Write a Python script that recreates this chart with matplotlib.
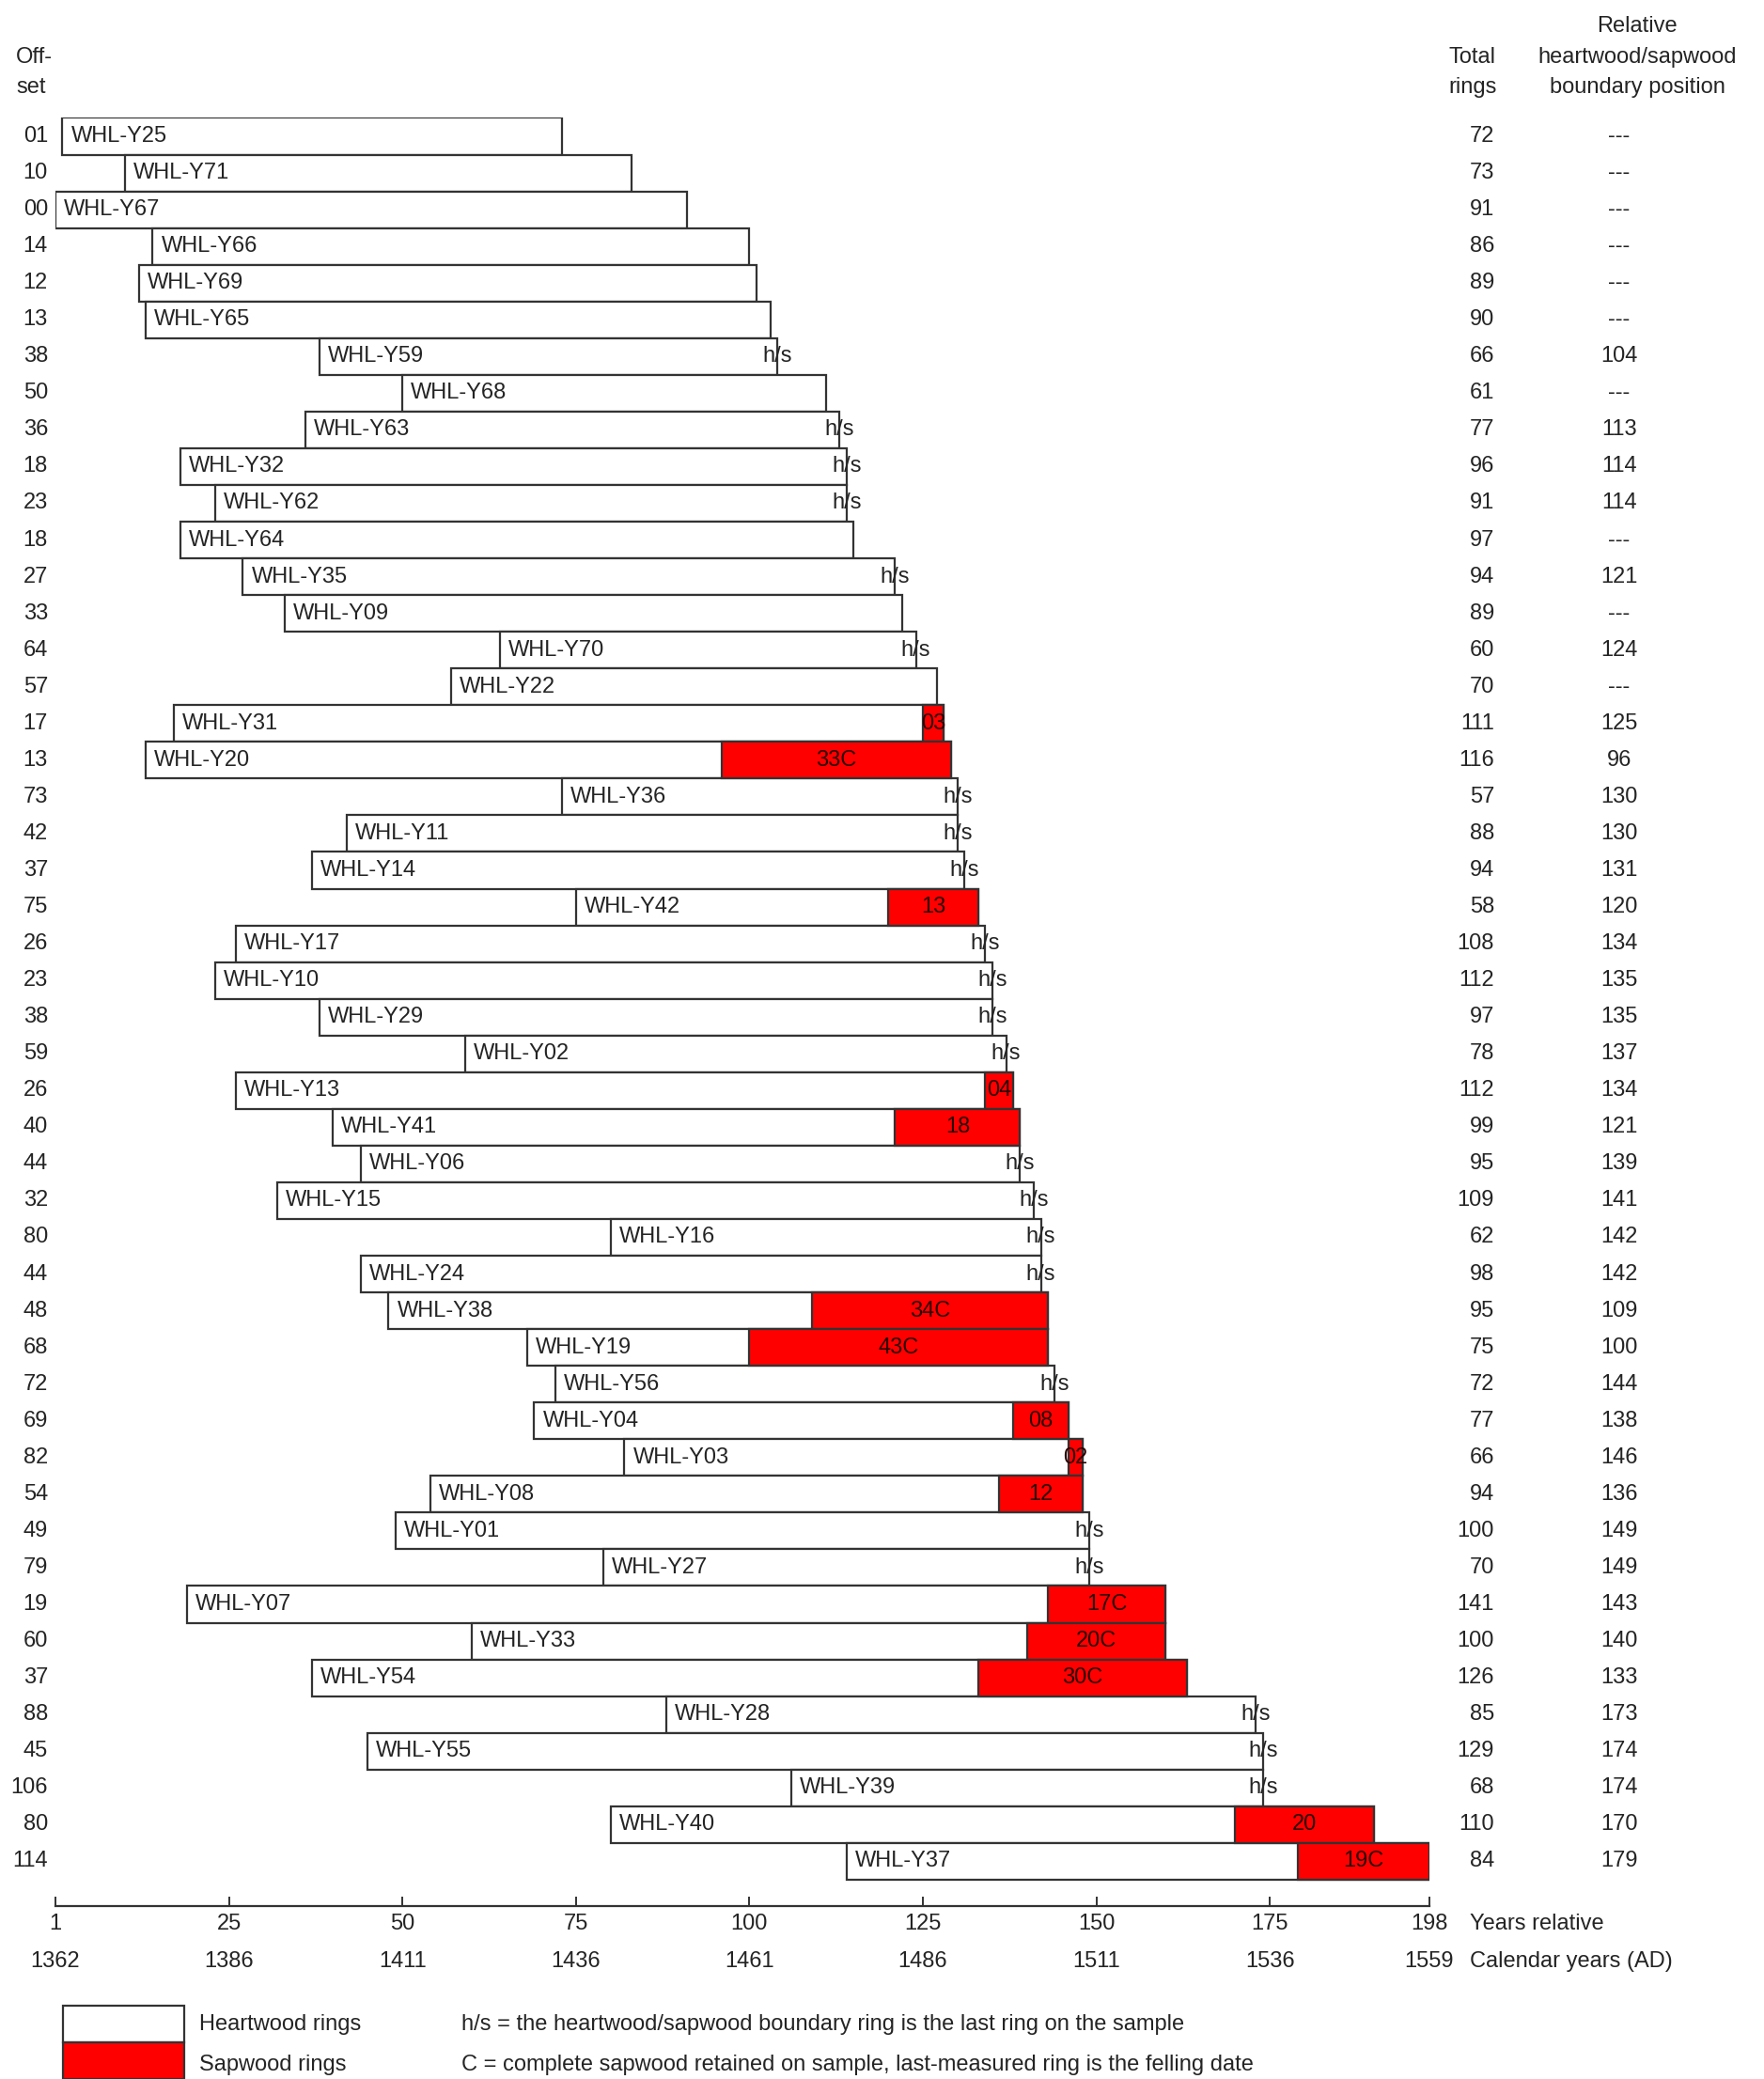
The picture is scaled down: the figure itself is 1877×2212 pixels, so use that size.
import matplotlib
matplotlib.use("Agg")
import matplotlib.pyplot as plt
from matplotlib.patches import Rectangle
import matplotlib.transforms as mtransforms

plt.rcParams['font.family'] = ['Liberation Sans', 'DejaVu Sans']

# ---- data -------------------------------------------------------------
sample_names = ["WHL-Y25", "WHL-Y71", "WHL-Y67", "WHL-Y66", "WHL-Y69", "WHL-Y65",
                "WHL-Y59", "WHL-Y68", "WHL-Y63", "WHL-Y32", "WHL-Y62", "WHL-Y64",
                "WHL-Y35", "WHL-Y09", "WHL-Y70", "WHL-Y22", "WHL-Y31", "WHL-Y20",
                "WHL-Y36", "WHL-Y11", "WHL-Y14", "WHL-Y42", "WHL-Y17", "WHL-Y10",
                "WHL-Y29", "WHL-Y02", "WHL-Y13", "WHL-Y41", "WHL-Y06", "WHL-Y15",
                "WHL-Y16", "WHL-Y24", "WHL-Y38", "WHL-Y19", "WHL-Y56", "WHL-Y04",
                "WHL-Y03", "WHL-Y08", "WHL-Y01", "WHL-Y27", "WHL-Y07", "WHL-Y33",
                "WHL-Y54", "WHL-Y28", "WHL-Y55", "WHL-Y39", "WHL-Y40", "WHL-Y37"]
offsets = [1, 10, 0, 14, 12, 13, 38, 50, 36, 18, 23, 18, 27, 33, 64, 57, 17, 13,
           73, 42, 37, 75, 26, 23, 38, 59, 26, 40, 44, 32, 80, 44, 48, 68, 72, 69,
           82, 54, 49, 79, 19, 60, 37, 88, 45, 106, 80, 114]
total_rings = [72, 73, 91, 86, 89, 90, 66, 61, 77, 96, 91, 97, 94, 89, 60, 70, 111, 116,
               57, 88, 94, 58, 108, 112, 97, 78, 112, 99, 95, 109, 62, 98, 95, 75, 72, 77,
               66, 94, 100, 70, 141, 100, 126, 85, 129, 68, 110, 84]
# relative position of the heartwood/sapwood boundary (None = not present)
hs_boundary = [None, None, None, None, None, None, 104, None, 113, 114, 114, None,
               121, None, 124, None, 125, 96, 130, 130, 131, 120, 134, 135,
               135, 137, 134, 121, 139, 141, 142, 142, 109, 100, 144, 138,
               146, 136, 149, 149, 143, 140, 133, 173, 174, 174, 170, 179]
# samples that retain complete sapwood (last ring = felling date)
complete_sapwood = ["WHL-Y20", "WHL-Y38", "WHL-Y19", "WHL-Y07", "WHL-Y33",
                    "WHL-Y54", "WHL-Y37"]

rel_ticks = [0, 25, 50, 75, 100, 125, 150, 175, 198]
rel_tick_labels = ["1", "25", "50", "75", "100", "125", "150", "175", "198"]
cal_tick_labels = ["1362", "1386", "1411", "1436", "1461", "1486", "1511", "1536", "1559"]

# ---- layout (pixels) --------------------------------------------------
W, H = 1877, 2212
DPI = 100
FS = 17
TXT = '#242424'
EDGE = '#333333'
RED = '#ff0000'

x_left, x_right = 59, 1521          # pixel span of relative years 0..198
row0_y, pitch = 145.0, 39.05        # first row centre and row spacing
axis_y = 2028                        # pixel y of the time axis
top_px = row0_y - pitch / 2
n = len(sample_names)
y_bottom_row = (axis_y - row0_y) / pitch

fig = plt.figure(figsize=(W / DPI, H / DPI), dpi=DPI)
ax = fig.add_axes([x_left / W, 1 - axis_y / H,
                   (x_right - x_left) / W, (axis_y - top_px) / H])
ax.set_xlim(0, 198)
ax.set_ylim(y_bottom_row, -0.5)

for s in ('left', 'top', 'right'):
    ax.spines[s].set_visible(False)
ax.spines['bottom'].set_color(EDGE)
ax.spines['bottom'].set_linewidth(1.6)
ax.set_yticks([])
ax.set_xticks(rel_ticks)
ax.set_xticklabels(rel_tick_labels)
ax.tick_params(axis='x', direction='in', length=7.5, width=1.4, color=EDGE,
               labelsize=FS, labelcolor=TXT, pad=5.5)

# blended transforms: figure-fraction x with data-row y
row_tf = mtransforms.blended_transform_factory(fig.transFigure, ax.transData)
# data x with figure-fraction y
col_tf = mtransforms.blended_transform_factory(ax.transData, fig.transFigure)

bar_h = 1.0
for i, name in enumerate(sample_names):
    start = offsets[i]
    end = offsets[i] + total_rings[i]
    ax.add_patch(Rectangle((start, i - bar_h / 2), end - start, bar_h,
                           facecolor='white', edgecolor=EDGE, linewidth=1.6,
                           zorder=2))
    ax.annotate(name, xy=(start, i), xytext=(6.5, 0), textcoords='offset points',
                ha='left', va='center', fontsize=FS, color=TXT, zorder=5)

    b = hs_boundary[i]
    if b is not None:
        if b >= end:
            ax.text(end, i, "h/s", ha='center', va='center', fontsize=FS,
                    color=TXT, zorder=6)
        else:
            ax.add_patch(Rectangle((b, i - bar_h / 2), end - b, bar_h,
                                   facecolor=RED, edgecolor=EDGE, linewidth=1.6,
                                   zorder=3))
            lab = f"{end - b:02d}" + ("C" if name in complete_sapwood else "")
            ax.text((b + end) / 2, i, lab, ha='center', va='center',
                    fontsize=FS, color='#2a0000', zorder=6)

    # side columns
    ax.text(51 / W, i, f"{offsets[i]:02d}", transform=row_tf, ha='right',
            va='center', fontsize=FS, color=TXT)
    ax.text(1590 / W, i, str(total_rings[i]), transform=row_tf, ha='right',
            va='center', fontsize=FS, color=TXT)
    ax.text(1723 / W, i, "---" if b is None else str(b), transform=row_tf,
            ha='center', va='center', fontsize=FS, color=TXT)

# column headers
def ftext(x, y, s, **kw):
    fig.text(x / W, 1 - y / H, s, fontsize=FS, color=TXT, va='center', **kw)

ftext(17, 61, "Off-", ha='left')
ftext(17, 93, "set", ha='left')
ftext(1567, 61, "Total", ha='center')
ftext(1567, 93, "rings", ha='center')
ftext(1742, 28, "Relative", ha='center')
ftext(1742, 61, "heartwood/sapwood", ha='center')
ftext(1742, 93, "boundary position", ha='center')

# calendar-year row under the relative-year tick labels
for t, lab in zip(rel_ticks, cal_tick_labels):
    ax.text(t, 1 - 2087 / H, lab, transform=col_tf, ha='center', va='center',
            fontsize=FS, color=TXT)
ftext(1564, 2047, "Years relative", ha='left')
ftext(1564, 2087, "Calendar years (AD)", ha='left')

# legend
for y0, fc in ((2134, 'white'), (2173, RED)):
    fig.patches.append(Rectangle((67 / W, 1 - (y0 + 39) / H), 129 / W, 39 / H,
                                 transform=fig.transFigure, facecolor=fc,
                                 edgecolor=EDGE, linewidth=1.6))
ftext(212, 2154, "Heartwood rings", ha='left')
ftext(212, 2197, "Sapwood rings", ha='left')
ftext(491, 2154, "h/s = the heartwood/sapwood boundary ring is the last ring on the sample",
      ha='left')
ftext(491, 2197, "C = complete sapwood retained on sample, last-measured ring is the felling date",
      ha='left')

fig.savefig("out.png", dpi=DPI, facecolor='white')
